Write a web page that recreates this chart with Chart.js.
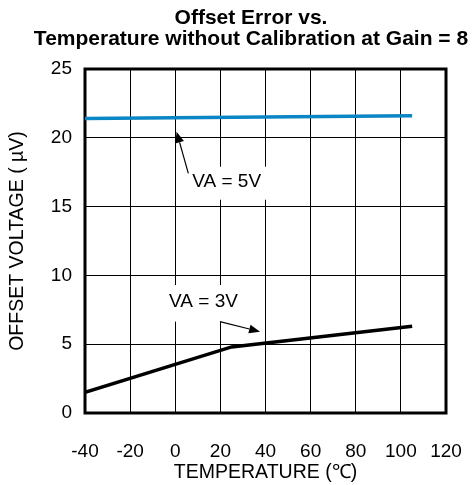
<!DOCTYPE html>
<html><head><meta charset="utf-8">
<script src="https://cdn.jsdelivr.net/npm/chart.js@4/dist/chart.umd.min.js"></script>
<style>html,body{margin:0;padding:0;background:#fff}#wrap{width:474px;height:485px}</style>
</head><body><div id="wrap"><canvas id="c" width="474" height="485"></canvas></div>
<script>
// ---- data ----
const temps5 = [-40, 105];
const offset5 = [21.4, 21.6];
const temps3 = [-40, 25, 105];
const offset3 = [1.5, 4.8, 6.3];
const xTickValues = [-40, -20, 0, 20, 40, 60, 80, 100, 120];
const yTickValues = [0, 5, 10, 15, 20, 25];
const titleLines = ['Offset Error vs.', 'Temperature without Calibration at Gain = 8'];
const xTitle = 'TEMPERATURE (\u2103)';
const yTitle = 'OFFSET VOLTAGE ( \u00B5V)';
const noteLabels = ['VA = 5V', 'VA = 3V'];
// annotation anchors in data units (temperature, voltage)
const noteText = [[22.8, 16.77], [12.5, 8.09]];
const noteBox = [[5.6, 41.1, 15.5, 17.9], [-6.8, 30.9, 6.64, 9.3]];
const arrowFrom = [[5.8, 17.42], [19.8, 6.64]];
const arrowTo = [[0.6, 20.44], [37.6, 5.91]];

const FONT = "'Liberation Sans', Arial, sans-serif";

const pts = (xs, ys) => xs.map((x, i) => ({x: x, y: ys[i]}));

const decor = {
  id: 'decor',
  beforeDatasetsDraw(chart) {
    const {ctx, chartArea: a, scales: {x, y}} = chart;
    ctx.save();
    ctx.fillStyle = '#fff';
    noteBox.forEach(b => {
      const x0 = x.getPixelForValue(b[0]), x1 = x.getPixelForValue(b[1]);
      const y0 = y.getPixelForValue(b[3]), y1 = y.getPixelForValue(b[2]);
      ctx.fillRect(x0, y0, x1 - x0, y1 - y0);
    });
    ctx.strokeStyle = '#000';
    ctx.lineWidth = 3;
    ctx.strokeRect(a.left, a.top, a.right - a.left, a.bottom - a.top);
    ctx.restore();
  },
  afterDatasetsDraw(chart) {
    const {ctx, scales: {x, y}} = chart;
    ctx.save();
    ctx.fillStyle = '#000';
    ctx.font = '19px ' + FONT;
    ctx.textAlign = 'center';
    ctx.textBaseline = 'middle';
    noteLabels.forEach((t, i) => {
      ctx.fillText(t, x.getPixelForValue(noteText[i][0]), y.getPixelForValue(noteText[i][1]));
    });
    ctx.strokeStyle = '#000';
    ctx.lineWidth = 1.2;
    arrowFrom.forEach((f, i) => {
      const x0 = x.getPixelForValue(f[0]), y0 = y.getPixelForValue(f[1]);
      const x1 = x.getPixelForValue(arrowTo[i][0]), y1 = y.getPixelForValue(arrowTo[i][1]);
      const ang = Math.atan2(y1 - y0, x1 - x0);
      const L = 11, W = 4.5;
      const bx = x1 - L * Math.cos(ang), by = y1 - L * Math.sin(ang);
      ctx.beginPath(); ctx.moveTo(x0, y0); ctx.lineTo(bx, by); ctx.stroke();
      ctx.beginPath();
      ctx.moveTo(x1, y1);
      ctx.lineTo(bx + W * Math.sin(ang), by - W * Math.cos(ang));
      ctx.lineTo(bx - W * Math.sin(ang), by + W * Math.cos(ang));
      ctx.closePath(); ctx.fill();
    });
    ctx.restore();
  },
  afterDraw(chart) {
    const {ctx} = chart;
    ctx.save();
    ctx.fillStyle = '#000';
    ctx.font = 'bold 21px ' + FONT;
    ctx.textAlign = 'center';
    ctx.textBaseline = 'alphabetic';
    ctx.fillText(titleLines[0], 251, 24);
    ctx.fillText(titleLines[1], 251, 45);
    ctx.restore();
  }
};

new Chart(document.getElementById('c'), {
  type: 'scatter',
  data: {
    datasets: [
      {label: 'VA = 5V', data: pts(temps5, offset5), showLine: true, borderColor: '#0a86c4', borderWidth: 3.5, pointRadius: 0, tension: 0},
      {label: 'VA = 3V', data: pts(temps3, offset3), showLine: true, borderColor: '#000', borderWidth: 3.5, pointRadius: 0, tension: 0}
    ]
  },
  options: {
    responsive: false,
    animation: false,
    devicePixelRatio: 1,
    layout: {padding: {top: 69, right: 28, left: 0, bottom: 0}},
    plugins: {legend: {display: false}, title: {display: false}, tooltip: {enabled: false}},
    scales: {
      x: {
        type: 'linear', min: -40, max: 120,
        afterBuildTicks: s => { s.ticks = xTickValues.map(v => ({value: v})); },
        afterFit: s => { s.height = 72; s.paddingLeft = 0; s.paddingRight = 0; },
        grid: {color: '#000', lineWidth: 1, drawTicks: false},
        border: {display: false},
        ticks: {color: '#000', padding: 27, font: {size: 19, family: FONT}, maxRotation: 0},
        title: {display: true, text: xTitle, color: '#000', font: {size: 19.5, family: FONT}, padding: {top: 0, bottom: 1}}
      },
      y: {
        type: 'linear', min: 0, max: 25,
        afterBuildTicks: s => { s.ticks = yTickValues.map(v => ({value: v})); },
        afterFit: s => { s.width = 85; s.paddingTop = 0; s.paddingBottom = 0; },
        grid: {color: '#000', lineWidth: 1, drawTicks: false},
        border: {display: false},
        ticks: {color: '#000', padding: 13, font: {size: 19, family: FONT}},
        title: {display: true, text: yTitle, color: '#000', font: {size: 19.5, family: FONT}, padding: {top: 6, bottom: 0}}
      }
    }
  },
  plugins: [decor]
});
</script></body></html>
